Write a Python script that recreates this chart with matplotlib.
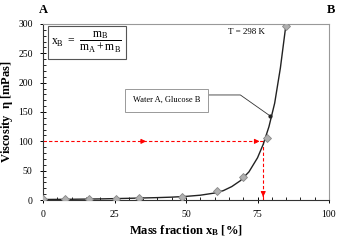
import numpy as np
import matplotlib
matplotlib.use('Agg')
import matplotlib.pyplot as plt
from matplotlib.ticker import MultipleLocator

plt.rcParams['font.family'] = 'Liberation Serif'
plt.rcParams['mathtext.fontset'] = 'custom'
plt.rcParams['mathtext.rm'] = 'Liberation Serif'
plt.rcParams['mathtext.it'] = 'Liberation Serif'
plt.rcParams['mathtext.bf'] = 'Liberation Serif:bold'

# === measured points (water A / glucose B, T = 298 K) ===
x_meas = [0, 7.7, 16, 25.4, 33.6, 48.5, 60.7, 69.8, 78.2, 84.9]
y_meas = [1, 1.3, 1.8, 2.5, 3.5, 6, 15, 39, 106, 297]

# === fitted curve ===
x_fit = [0, 10, 20, 30, 40, 45, 50, 55, 60, 63, 66, 69, 72, 75, 77, 79, 81, 83, 84.9]
y_fit = [1, 1.4, 2, 3, 4.2, 5, 6.3, 8.3, 12, 16, 23, 33, 48, 72, 95, 125, 165, 225, 297]

# === reading example: 100 mPas -> x_B ~ 77 % ===
eta_read = 100
xb_read = 77

# === label leader line: box edge -> knee -> curve point ===
lead_x = [57.7, 69, 79.5]
lead_y = [179, 179, 143]

fig = plt.figure(figsize=(3.53, 2.44), dpi=100)
ax = fig.add_axes([0.122, 0.180, 0.810, 0.722])

ax.plot(x_fit, y_fit, color='#222222', lw=1.0, zorder=3)
ax.plot(x_meas, y_meas, ls='none', marker='D', ms=4, mfc='#b0b0b0', mec='#888888', mew=0.6, zorder=4)

# red dashed reading lines
ax.plot([0, xb_read], [eta_read, eta_read], color='red', ls='--', lw=0.8, dashes=(3, 2))
ax.plot([xb_read, xb_read], [eta_read, 0], color='red', ls='--', lw=0.8, dashes=(3, 2))
ax.annotate('', xy=(37, eta_read), xytext=(33, eta_read),
            arrowprops=dict(arrowstyle='-|>', color='red', lw=0.8, mutation_scale=7))
ax.annotate('', xy=(xb_read - 0.3, eta_read), xytext=(xb_read - 4, eta_read),
            arrowprops=dict(arrowstyle='-|>', color='red', lw=0.8, mutation_scale=7))
ax.annotate('', xy=(xb_read, 1), xytext=(xb_read, 12),
            arrowprops=dict(arrowstyle='-|>', color='red', lw=0.8, mutation_scale=7))

ax.set_xlim(0, 100)
ax.set_ylim(0, 300)
ax.xaxis.set_major_locator(MultipleLocator(25))
ax.xaxis.set_minor_locator(MultipleLocator(5))
ax.yaxis.set_major_locator(MultipleLocator(50))
ax.yaxis.set_minor_locator(MultipleLocator(10))
ax.tick_params(which='major', direction='inout', length=5, width=0.7, labelsize=7, pad=5)
ax.tick_params(which='minor', direction='in', length=2.5, width=0.6)

for s in ['top', 'right']:
    ax.spines[s].set_color('#999999')
for s in ['left', 'bottom']:
    ax.spines[s].set_color('#333333')
for s in ax.spines.values():
    s.set_linewidth(0.8)

ax.set_xlabel(r'Mass fraction $\mathbf{x_B}$ [%]', fontsize=9, fontweight='bold', labelpad=3)
ax.set_ylabel(r'Viscosity  $\mathbf{\eta}$ [mPas]', fontsize=9, fontweight='bold', labelpad=2)

fig.text(0.123, 0.945, 'A', fontsize=9, fontweight='bold', ha='center')
fig.text(0.938, 0.945, 'B', fontsize=9, fontweight='bold', ha='center')

ax.text(2.8, 290, r'$\mathrm{x_B}\ =\ \dfrac{\mathrm{m_B}}{\mathrm{m_A}+\mathrm{m_B}}$', fontsize=8.5,
        va='top', ha='left',
        bbox=dict(boxstyle='square,pad=0.3', fc='white', ec='#555555', lw=0.8))
ax.text(71, 286, 'T = 298 K', fontsize=6.5, ha='center', va='center')

ax.text(43.2, 170, 'Water A, Glucose B', fontsize=6, ha='center', va='center',
        bbox=dict(boxstyle='square,pad=0.9', fc='white', ec='#999999', lw=0.7), zorder=5)
ax.plot(lead_x, lead_y, color='#333333', lw=0.6, zorder=4)
ax.plot([lead_x[-1]], [lead_y[-1]], marker='o', ms=2, color='#222222', zorder=5)

fig.savefig('out.png', dpi=100)
